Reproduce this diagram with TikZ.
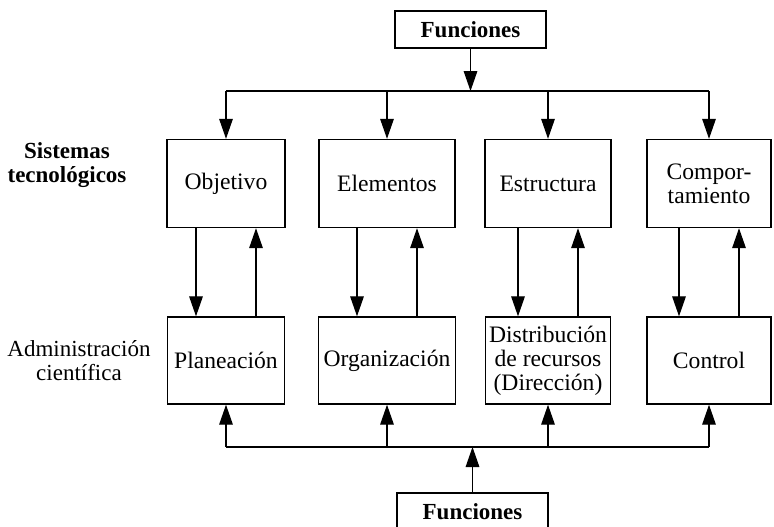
\documentclass[tikz,border=0pt]{standalone}
\usepackage{fontspec}
\setmainfont{Liberation Serif}
\usetikzlibrary{positioning, arrows.meta}
\tikzset{
    >={Triangle[length=10pt,width=6.8pt]}, % big filled arrow heads
    box/.style={draw, line width=0.7pt, minimum height=44pt, align=center, inner sep=1pt, font=\fontsize{11.8}{12}\selectfont}, % every box
    wire/.style={line width=0.6pt}, % the connectors
    lbl/.style={align=center, font=\fontsize{11.5}{12}\selectfont}, % row names on the left
    node distance=80.5pt, % centre to centre of two columns
}
\begin{document}
\begin{tikzpicture}[x=0.5pt, y=-0.5pt]
    \useasboundingbox (0,0) rectangle (774,526);
    % top row
    \node[box, minimum width=59pt] (obj) at (226,183.5) {Objetivo};
    \node[box, minimum width=68pt, right of=obj] (elem) {Elementos};
    \node[box, minimum width=63pt, right of=elem] (estr) {Estructura};
    \node[box, minimum width=62pt, right of=estr] (comp) {Compor-\\tamiento};
    % bottom row
    \node[box, minimum width=58.5pt, minimum height=43.5pt, below of=obj, node distance=88.5pt] (plan) {Planeación};
    \node[box, minimum width=68.5pt, minimum height=43.5pt, right of=plan] (org) {Organización};
    \node[box, minimum width=62.5pt, minimum height=43.5pt, right of=org] (dist) {Distribución\\de recursos\\(Dirección)};
    \node[box, minimum width=62pt, minimum height=43.5pt, right of=dist] (ctrl) {Control};
    % the two Funciones boxes
    \node[box, font=\fontsize{11.5}{12}\selectfont\bfseries, minimum width=75.5pt, minimum height=18.5pt] (ftop) at (470.5,29.5) {Funciones};
    \node[box, font=\fontsize{11.5}{12}\selectfont\bfseries, minimum width=75.5pt, minimum height=18.5pt] (fbot) at (472.5,511.5) {Funciones};
    % row names
    \node[lbl, font=\fontsize{11.5}{12}\selectfont\bfseries] (sislbl) at (67,165) {Sistemas\\tecnológicos};
    \node[lbl] (admlbl) at (79,361) {Administración\\científica};
    \coordinate (topbus) at (470,91);
    \coordinate (botbus) at (472,447);
    \draw[wire,->] (ftop) -- (ftop |- topbus);
    \draw[wire] (obj.north |- topbus) -- (comp.north |- topbus);
    \draw[wire,->] (fbot) -- (fbot |- botbus);
    \draw[wire] (plan.south |- botbus) -- (ctrl.south |- botbus);
    \foreach \n in {obj,elem,estr,comp}
        \draw[wire,->] (\n.north |- topbus) -- (\n.north);
    \foreach \n in {plan,org,dist,ctrl}
        \draw[wire,->] (\n.south |- botbus) -- (\n.south);
    \foreach \a/\b in {obj/plan, elem/org, estr/dist, comp/ctrl} {
        \draw[wire,->] ([xshift=-15pt]\a.south) -- ([xshift=-15pt]\b.north);
        \draw[wire,->] ([xshift=15pt]\b.north) -- ([xshift=15pt]\a.south);
    }
\end{tikzpicture}
\end{document}
